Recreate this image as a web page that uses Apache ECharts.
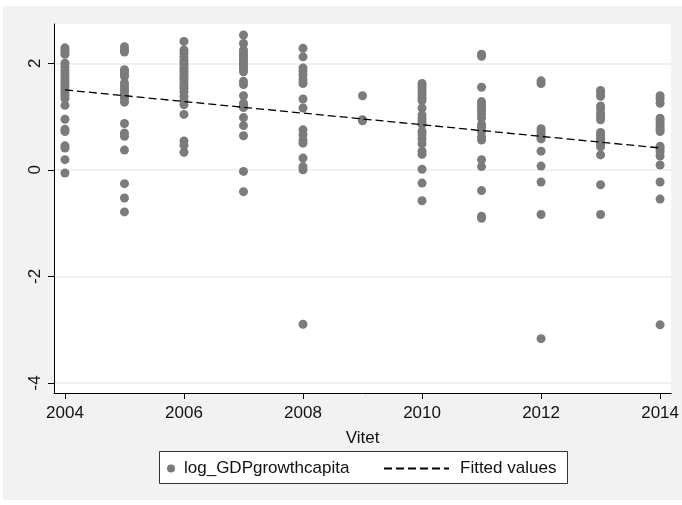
<!DOCTYPE html>
<html>
<head>
<meta charset="utf-8">
<script src="https://cdn.jsdelivr.net/npm/echarts@6/dist/echarts.min.js"></script>
<style>
html,body{margin:0;padding:0;background:#fff;}
#wrap{position:relative;width:682px;height:505px;background:#fff;overflow:hidden;}
#c{position:absolute;left:3px;top:6px;width:679px;height:494px;background:#f2f2f2;}
</style>
</head>
<body>
<div id="wrap"><div id="c"></div></div>
<script>
// ---- data ----
const years = [2004, 2005, 2006, 2007, 2008, 2009, 2010, 2011, 2012, 2013, 2014];
const v2004 = [2.29, 2.25, 2.21, 2.17, 2.0, 1.93, 1.86, 1.8, 1.74, 1.68, 1.62, 1.56, 1.5, 1.45, 1.4, 1.34, 1.21, 0.95, 0.76, 0.72, 0.45, 0.41, 0.19, -0.06];
const v2005 = [2.31, 2.25, 2.21, 1.88, 1.84, 1.79, 1.75, 1.63, 1.58, 1.53, 1.49, 1.44, 1.39, 1.34, 1.27, 0.87, 0.69, 0.63, 0.37, -0.26, -0.53, -0.79];
const v2006 = [2.41, 2.25, 2.19, 2.12, 2.05, 2.0, 1.95, 1.9, 1.85, 1.8, 1.75, 1.7, 1.64, 1.58, 1.53, 1.47, 1.38, 1.3, 1.22, 1.04, 0.54, 0.46, 0.33];
const v2007 = [2.53, 2.37, 2.25, 2.2, 2.15, 2.1, 2.05, 2.0, 1.95, 1.9, 1.84, 1.66, 1.6, 1.39, 1.25, 1.19, 1.17, 0.98, 0.83, 0.64, -0.03, -0.41];
const v2008 = [2.28, 2.12, 1.91, 1.84, 1.78, 1.69, 1.62, 1.33, 1.16, 0.75, 0.66, 0.56, 0.5, 0.22, 0.06, 0.0, -2.9];
const v2009 = [1.39, 0.94, 0.92];
const v2010 = [1.62, 1.57, 1.52, 1.47, 1.41, 1.35, 1.3, 1.16, 1.03, 0.96, 0.9, 0.85, 0.72, 0.66, 0.58, 0.49, 0.35, 0.29, 0.01, -0.25, -0.58];
const v2011 = [2.17, 2.13, 1.55, 1.28, 1.22, 1.16, 1.1, 1.04, 0.97, 0.85, 0.8, 0.72, 0.62, 0.56, 0.19, 0.06, -0.39, -0.87, -0.91];
const v2012 = [1.67, 1.62, 0.77, 0.72, 0.67, 0.62, 0.58, 0.35, 0.07, -0.23, -0.84, -3.17];
const v2013 = [1.49, 1.44, 1.38, 1.2, 1.14, 1.06, 1.0, 0.94, 0.7, 0.64, 0.59, 0.54, 0.49, 0.43, 0.28, -0.28, -0.84];
const v2014 = [1.39, 1.33, 1.25, 0.97, 0.92, 0.87, 0.81, 0.76, 0.72, 0.44, 0.39, 0.34, 0.26, 0.09, -0.23, -0.55, -2.91];
const fittedYears = [2004, 2014];
const fittedValues = [1.50, 0.41];
const xTicks = [2004, 2006, 2008, 2010, 2012, 2014];
const yTicks = [-4, -2, 0, 2];
const scatterName = 'log_GDPgrowthcapita';
const fitName = 'Fitted values';
const xTitle = 'Vitet';

const valuesByYear = [v2004, v2005, v2006, v2007, v2008, v2009, v2010, v2011, v2012, v2013, v2014];
const scatterData = [];
years.forEach((y, i) => valuesByYear[i].forEach(v => scatterData.push([y, v])));
const fitData = fittedYears.map((y, i) => [y, fittedValues[i]]);

const FONT = 'Liberation Sans, Arial, Helvetica, sans-serif';
const chart = echarts.init(document.getElementById('c'), null, {renderer: 'canvas'});
chart.setOption({
  animation: false,
  backgroundColor: 'transparent',
  textStyle: {fontFamily: FONT},
  grid: {left: 51, top: 18, width: 619, height: 369, show: true, backgroundColor: '#ffffff', borderWidth: 0, containLabel: false},
  xAxis: {
    type: 'value', min: 2003.816, max: 2014.186,
    name: xTitle, nameLocation: 'middle', nameGap: 37,
    nameTextStyle: {fontSize: 17, color: '#111', fontFamily: FONT},
    axisLine: {show: true, onZero: false, lineStyle: {color: '#000', width: 1}},
    axisTick: {show: true, length: 6, lineStyle: {color: '#000'}, customValues: xTicks},
    axisLabel: {fontSize: 17, color: '#111', margin: 12, customValues: xTicks, fontFamily: FONT, formatter: v => String(v)},
    splitLine: {show: false}
  },
  yAxis: {
    type: 'value', min: -4.19, max: 2.737,
    axisLine: {show: true, onZero: false, lineStyle: {color: '#000', width: 1}},
    axisTick: {show: true, length: 6, lineStyle: {color: '#000'}, customValues: yTicks},
    axisLabel: {fontSize: 17, color: '#111', margin: 10, rotate: 90, customValues: yTicks, fontFamily: FONT},
    splitLine: {show: true, lineStyle: {color: '#ebebeb', width: 1.5}}
  },
  legend: [
    {data: [{name: scatterName, icon: 'circle'}], left: 164, top: 454, itemWidth: 16, itemHeight: 8, padding: 0,
     textStyle: {fontSize: 17, color: '#111', fontFamily: FONT}},
    {data: [{name: fitName}], left: 380, top: 454, itemWidth: 65, itemHeight: 14, padding: 0,
     itemStyle: {opacity: 0},
     textStyle: {fontSize: 17, color: '#111', fontFamily: FONT, padding: [0, 0, 0, 6]}}
  ],
  graphic: [
    {type: 'rect', shape: {x: 156.5, y: 445.5, width: 408, height: 32}, style: {fill: '#fff', stroke: '#333', lineWidth: 1}, z: -1, silent: true}
  ],
  series: [
    {name: scatterName, type: 'scatter', data: scatterData, symbol: 'circle', symbolSize: 9,
     itemStyle: {color: '#7b7b7b', opacity: 1}},
    {name: fitName, type: 'line', data: fitData, symbol: 'none', z: 5,
     lineStyle: {color: '#000', width: 1.3, type: [8, 4]}, itemStyle: {color: '#000'}}
  ]
});
</script>
</body>
</html>
